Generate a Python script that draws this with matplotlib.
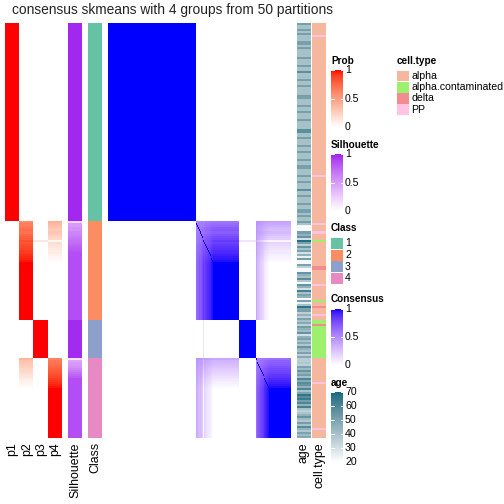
import numpy as np
import matplotlib
matplotlib.use("Agg")
import matplotlib.pyplot as plt
from matplotlib.colors import ListedColormap
from matplotlib.patches import Rectangle

plt.rcParams["font.family"] = ["Liberation Sans", "DejaVu Sans"]

# ---- data ----
class_sizes = [99, 49, 19, 40]
class_labels = ["1", "2", "3", "4"]
class_colors = ["#66C2A5", "#FC8D62", "#8DA0CB", "#E78AC3"]

# leading rows of class 2 / class 4 that are not fully certain (rest are 1)
p2_class2_head = [0.60, 0.64, 0.66, 0.70, 0.72, 0.70, 0.74, 0.78, 0.80, 0.84,
                  0.82, 0.85, 0.87, 0.88, 0.90, 0.91, 0.93, 0.95, 0.96, 0.98]
p3_class2_rows = [9]
p3_class2_vals = [0.12]
p4_class4_head = [0.62, 0.68, 0.70, 0.72, 0.75, 0.78, 0.80, 0.82, 0.85, 0.87,
                  0.90, 0.92, 0.94, 0.96, 0.98]

sil_class1 = 0.98
sil_class2_head = [0.20, 0.50, 0.50, 0.55, 0.55, 0.60, 0.62, 0.65, 0.68, 0.70,
                   0.72, 0.75, 0.78, 0.80, 0.82]
sil_class2_tail = 0.85
sil_class3 = 0.97
sil_class4_head = [0.15, 0.45, 0.50, 0.52, 0.55, 0.60, 0.65, 0.70, 0.75, 0.80]
sil_class4_tail = 0.85

# age: class 1 as (age, run length), others row by row
age_class1_runs = [(51, 1), (40, 2), (51, 1), (40, 1), (51, 1), (40, 3), (51, 2), (40, 1),
                   (51, 1), (40, 4), (51, 1), (40, 3), (51, 1), (40, 2), (57, 1), (40, 3),
                   (51, 1), (40, 2), (51, 1), (40, 4), (51, 2), (40, 3), (51, 1), (40, 2),
                   (51, 1), (40, 3), (51, 1), (40, 4), (57, 2), (40, 2), (51, 1), (40, 3),
                   (51, 1), (40, 2), (51, 1), (40, 3), (51, 1), (40, 2), (51, 2), (40, 3),
                   (51, 1), (40, 2), (51, 1), (40, 3), (57, 1), (40, 2), (51, 1), (40, 3),
                   (51, 1), (40, 2), (51, 2), (40, 1), (51, 1), (40, 2)]
age_class2 = [52, 40, 22, 22, 22, 52, 45, 55, 30, 68, 50, 35, 55, 40, 50, 30, 45, 25, 52, 22,
              22, 50, 35, 22, 22, 55, 45, 40, 58, 38, 22, 55, 45, 30, 62, 40, 50, 45, 22, 50,
              25, 40, 66, 50, 52, 35, 45, 35, 50]
age_class3 = [40, 48, 35, 52, 45, 42, 55, 30, 45, 50, 40, 48, 38, 55, 45, 40, 50, 35, 48]
age_class4 = [36, 36, 38, 35, 50, 42, 55, 45, 52, 40, 60, 48, 58, 55, 45, 60, 40, 50, 66, 58,
              64, 52, 60, 45, 62, 40, 35, 38, 45, 55, 42, 38, 52, 40, 58, 45, 38, 50, 42, 48]

cell_types = ["alpha", "alpha.contaminated", "delta", "PP"]
cell_colors = ["#F5B89F", "#9DF06E", "#F28C8E", "#FFC4E1"]
contaminated_rows = [108, 138, 148, 149] + list(range(151, 167))
delta_rows = [121, 122, 141, 150]
pp_rows = [6, 76, 100, 104, 130, 145, 179, 202]


# ---- colour ramps interpolated in LAB (like colorRamp2) ----
WHITE_REF = np.array([0.95047, 1.0, 1.08883])
M = np.array([[0.4124, 0.3576, 0.1805], [0.2126, 0.7152, 0.0722], [0.0193, 0.1192, 0.9505]])


def to_lab(hexcol):
    rgb = np.array(matplotlib.colors.to_rgb(hexcol))
    lin = np.where(rgb <= 0.04045, rgb / 12.92, ((rgb + 0.055) / 1.055) ** 2.4)
    xyz = M @ lin / WHITE_REF
    f = np.where(xyz > (6 / 29) ** 3, np.cbrt(xyz), xyz / (3 * (6 / 29) ** 2) + 4 / 29)
    return np.array([116 * f[1] - 16, 500 * (f[0] - f[1]), 200 * (f[1] - f[2])])


def from_lab(lab):
    fy = (lab[:, 0] + 16) / 116
    f = np.stack([fy + lab[:, 1] / 500, fy, fy - lab[:, 2] / 200], axis=1)
    xyz = np.where(f > 6 / 29, f ** 3, 3 * (6 / 29) ** 2 * (f - 4 / 29)) * WHITE_REF
    lin = np.clip(xyz @ np.linalg.inv(M).T, 0, 1)
    rgb = np.where(lin <= 0.0031308, 12.92 * lin, 1.055 * lin ** (1 / 2.4) - 0.055)
    return np.clip(rgb, 0, 1)


def lab_cmap(c0, c1):
    t = np.linspace(0, 1, 256)[:, None]
    lab = to_lab(c0) * (1 - t) + to_lab(c1) * t
    rgb = from_lab(lab)
    rgb[0] = matplotlib.colors.to_rgb(c0)
    rgb[-1] = matplotlib.colors.to_rgb(c1)
    return ListedColormap(rgb)


prob_cmap = lab_cmap("#FFFFFF", "#FF0000")
sil_cmap = lab_cmap("#FFFFFF", "#A020F0")
cons_cmap = lab_cmap("#FFFFFF", "#0000FF")
age_cmap = lab_cmap("#FFFFFF", "#0F6B7E")

# ---- assemble per-sample matrices ----
n = sum(class_sizes)
off = np.cumsum([0] + class_sizes)
P = np.zeros((n, 4))
P[off[0]:off[1], 0] = 1
p2 = np.ones(class_sizes[1])
p2[:len(p2_class2_head)] = p2_class2_head
p3 = np.zeros(class_sizes[1])
p3[p3_class2_rows] = p3_class2_vals
P[off[1]:off[2], 1] = p2
P[off[1]:off[2], 2] = p3
P[off[1]:off[2], 3] = np.clip(1 - p2 - p3, 0, 1)
P[off[2]:off[3], 2] = 1
p4 = np.ones(class_sizes[3])
p4[:len(p4_class4_head)] = p4_class4_head
P[off[3]:off[4], 3] = p4
P[off[3]:off[4], 1] = 1 - p4

sil = np.concatenate([
    np.full(class_sizes[0], sil_class1),
    sil_class2_head + [sil_class2_tail] * (class_sizes[1] - len(sil_class2_head)),
    np.full(class_sizes[2], sil_class3),
    sil_class4_head + [sil_class4_tail] * (class_sizes[3] - len(sil_class4_head)),
])
cls = np.repeat(np.arange(4), class_sizes)
age = np.concatenate([[a for a, k in age_class1_runs for _ in range(k)],
                      age_class2, age_class3, age_class4]).astype(float)
ctype = np.zeros(n, dtype=int)
ctype[contaminated_rows] = 1
ctype[delta_rows] = 2
ctype[pp_rows] = 3

consensus = P @ P.T
np.fill_diagonal(consensus, 1)

# ---- drawing, all in pixel coordinates ----
W = H = 504
TOP, BOT = 23, 438
fig = plt.figure(figsize=(5.04, 5.04), dpi=100)
ax = fig.add_axes([0, 0, 1, 1])
ax.axis("off")


def panel(data, cmap, x0, x1, vmin=0, vmax=1):
    if data.ndim == 1:
        data = data[:, None]
    ax.imshow(data, cmap=cmap, vmin=vmin, vmax=vmax, extent=[x0, x1, BOT, TOP],
              aspect="auto", interpolation="nearest")


panel(P, prob_cmap, 5, 62)
panel(sil, sil_cmap, 68, 82)
panel(cls, ListedColormap(class_colors), 88, 102, -0.5, 3.5)
panel(consensus, cons_cmap, 108, 291)
panel(age, age_cmap, 297, 311, 20, 70)
panel(ctype, ListedColormap(cell_colors), 312, 326, -0.5, 3.5)

col_labels = [("p1", 12.5), ("p2", 27), ("p3", 41), ("p4", 55), ("Silhouette", 75),
              ("Class", 95), ("age", 304), ("cell.type", 319)]
for s, x in col_labels:
    ax.text(x, 442, s, rotation=90, ha="center", va="top", fontsize=8.9)

ax.text(173, 10, "consensus skmeans with 4 groups from 50 partitions",
        ha="center", va="center", fontsize=9.9, color="#222222")

LX = 331


def colorbar(title, ty, y0, y1, cmap, ticks, vmin, vmax):
    ax.text(LX, ty, title, fontweight="bold", fontsize=7.2, va="center", ha="left")
    grad = np.linspace(vmax, vmin, 200)[:, None]
    ax.imshow(grad, cmap=cmap, vmin=vmin, vmax=vmax, extent=[LX, LX + 12, y1, y0],
              aspect="auto", interpolation="bilinear")
    for t in ticks:
        y = y1 - (t - vmin) / (vmax - vmin) * (y1 - y0)
        ax.plot([LX, LX + 2.5], [y, y], color="white", lw=0.7)
        ax.plot([LX + 9.5, LX + 12], [y, y], color="white", lw=0.7)
        ax.text(LX + 14, y, f"{t:g}", fontsize=7.6, va="center", ha="left")


colorbar("Prob", 61, 70, 127, prob_cmap, [0, 0.5, 1], 0, 1)
colorbar("Silhouette", 145, 154, 211, sil_cmap, [0, 0.5, 1], 0, 1)
colorbar("Consensus", 299, 309, 365, cons_cmap, [0, 0.5, 1], 0, 1)
colorbar("age", 383, 392, 462, age_cmap, [20, 30, 40, 50, 60, 70], 20, 70)

ax.text(LX, 228, "Class", fontweight="bold", fontsize=7.2, va="center", ha="left")
for i, (lab, col) in enumerate(zip(class_labels, class_colors)):
    yc = 243.5 + i * 11.6
    ax.add_patch(Rectangle((LX, yc - 5.6), 12, 11.2, facecolor=col, edgecolor="none"))
    ax.text(LX + 14, yc, lab, fontsize=7.6, va="center", ha="left")

CX = 397
ax.text(CX, 61, "cell.type", fontweight="bold", fontsize=7.2, va="center", ha="left")
for i, (lab, col) in enumerate(zip(cell_types, cell_colors)):
    yc = 76 + i * 11.2
    ax.add_patch(Rectangle((CX, yc - 5.4), 12, 10.8, facecolor=col, edgecolor="none"))
    ax.text(CX + 14, yc, lab, fontsize=7.6, va="center", ha="left")

ax.set_xlim(0, W)
ax.set_ylim(H, 0)
fig.savefig("out.png", dpi=100)
